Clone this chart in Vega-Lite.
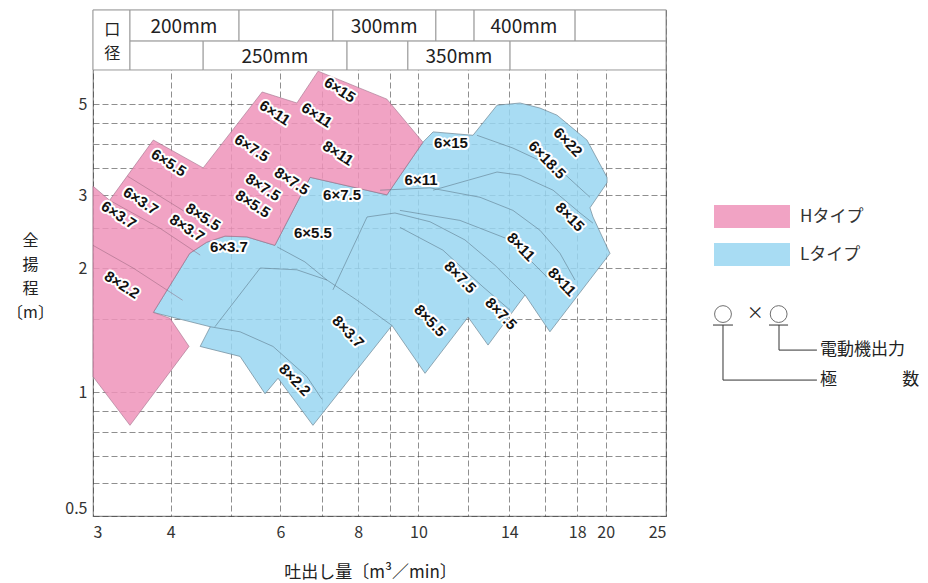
{
"$schema": "https://vega.github.io/schema/vega-lite/v6.json",
"width": 573,
"height": 506,
"autosize": {"type": "none"},
"padding": {"left": 93, "top": 10, "right": 262, "bottom": 67},
"background": "white",
"config": {"view": {"stroke": "#8c8c8c", "strokeWidth": 1.2}, "font": "Noto Sans CJK JP"},
"datasets": {
"pink": [
{"type":"Hタイプ","i":1,"x":3.00,"y":3.16},{"type":"Hタイプ","i":2,"x":3.19,"y":2.92},{"type":"Hタイプ","i":3,"x":3.75,"y":4.09},{"type":"Hタイプ","i":4,"x":4.51,"y":3.50},{"type":"Hタイプ","i":5,"x":5.61,"y":5.35},{"type":"Hタイプ","i":6,"x":6.38,"y":5.03},{"type":"Hタイプ","i":7,"x":6.90,"y":6.01},{"type":"Hタイプ","i":8,"x":8.90,"y":5.14},{"type":"Hタイプ","i":9,"x":10.17,"y":4.04},{"type":"Hタイプ","i":10,"x":8.90,"y":3.01},{"type":"Hタイプ","i":11,"x":6.70,"y":3.32},{"type":"Hタイプ","i":12,"x":5.88,"y":2.27},{"type":"Hタイプ","i":13,"x":5.30,"y":2.38},{"type":"Hタイプ","i":14,"x":4.89,"y":2.39},{"type":"Hタイプ","i":15,"x":4.57,"y":2.31},{"type":"Hタイプ","i":16,"x":4.29,"y":2.17},{"type":"Hタイプ","i":17,"x":3.75,"y":1.56},{"type":"Hタイプ","i":18,"x":3.99,"y":1.51},{"type":"Hタイプ","i":19,"x":4.28,"y":1.29},{"type":"Hタイプ","i":20,"x":3.44,"y":0.83},{"type":"Hタイプ","i":21,"x":3.00,"y":1.09}
],
"blue": [
{"type":"Lタイプ","i":1,"x":3.75,"y":1.56},{"type":"Lタイプ","i":2,"x":4.29,"y":2.17},{"type":"Lタイプ","i":3,"x":4.57,"y":2.31},{"type":"Lタイプ","i":4,"x":4.89,"y":2.39},{"type":"Lタイプ","i":5,"x":5.30,"y":2.38},{"type":"Lタイプ","i":6,"x":5.88,"y":2.27},{"type":"Lタイプ","i":7,"x":6.70,"y":3.32},{"type":"Lタイプ","i":8,"x":8.90,"y":3.01},{"type":"Lタイプ","i":9,"x":10.17,"y":4.04},{"type":"Lタイプ","i":10,"x":10.56,"y":4.28},{"type":"Lタイプ","i":11,"x":12.24,"y":4.20},{"type":"Lタイプ","i":12,"x":13.38,"y":4.97},{"type":"Lタイプ","i":13,"x":14.57,"y":5.03},{"type":"Lタイプ","i":14,"x":15.68,"y":4.89},{"type":"Lタイプ","i":15,"x":16.70,"y":4.70},{"type":"Lタイプ","i":16,"x":18.66,"y":4.09},{"type":"Lタイプ","i":17,"x":20.10,"y":3.32},{"type":"Lタイプ","i":18,"x":20.10,"y":3.22},{"type":"Lタイプ","i":19,"x":18.87,"y":2.80},{"type":"Lタイプ","i":20,"x":19.08,"y":2.66},{"type":"Lタイプ","i":21,"x":20.32,"y":2.17},{"type":"Lタイプ","i":22,"x":16.27,"y":1.40},{"type":"Lタイプ","i":23,"x":14.84,"y":1.72},{"type":"Lタイプ","i":24,"x":12.94,"y":1.30},{"type":"Lタイプ","i":25,"x":12.02,"y":1.52},{"type":"Lタイプ","i":26,"x":10.25,"y":1.11},{"type":"Lタイプ","i":27,"x":9.07,"y":1.45},{"type":"Lタイプ","i":28,"x":6.77,"y":0.83},{"type":"Lタイプ","i":29,"x":5.95,"y":1.08},{"type":"Lタイプ","i":30,"x":5.67,"y":0.99},{"type":"Lタイプ","i":31,"x":5.17,"y":1.22},{"type":"Lタイプ","i":32,"x":4.46,"y":1.29},{"type":"Lタイプ","i":33,"x":4.63,"y":1.44}
],
"linesL": [
{"id":"L1","i":1,"x":4.63,"y":1.44},{"id":"L1","i":2,"x":5.17,"y":1.40},{"id":"L1","i":3,"x":5.84,"y":1.29},{"id":"L1","i":4,"x":6.62,"y":1.09},{"id":"L1","i":5,"x":7.00,"y":0.96},
{"id":"L2","i":1,"x":4.71,"y":1.44},{"id":"L2","i":2,"x":5.57,"y":2.00},{"id":"L2","i":3,"x":6.38,"y":1.98},{"id":"L2","i":4,"x":7.13,"y":1.87},{"id":"L2","i":5,"x":7.97,"y":1.67},{"id":"L2","i":6,"x":9.07,"y":1.45},
{"id":"L3","i":1,"x":5.93,"y":2.25},{"id":"L3","i":2,"x":6.57,"y":2.07},{"id":"L3","i":3,"x":7.13,"y":1.87},
{"id":"L4","i":1,"x":7.29,"y":1.77},{"id":"L4","i":2,"x":8.27,"y":2.66},{"id":"L4","i":3,"x":9.17,"y":2.72},{"id":"L4","i":4,"x":10.44,"y":2.59},{"id":"L4","i":5,"x":11.88,"y":2.34},{"id":"L4","i":6,"x":13.28,"y":2.03},{"id":"L4","i":7,"x":14.84,"y":1.72},
{"id":"L5","i":1,"x":8.68,"y":3.09},{"id":"L5","i":2,"x":10.44,"y":3.13},{"id":"L5","i":3,"x":12.56,"y":2.97},{"id":"L5","i":4,"x":14.19,"y":2.76},{"id":"L5","i":5,"x":15.68,"y":2.47},{"id":"L5","i":6,"x":16.89,"y":2.17},{"id":"L5","i":7,"x":17.85,"y":1.87},
{"id":"L6","i":1,"x":10.56,"y":3.09},{"id":"L6","i":2,"x":13.38,"y":3.42},{"id":"L6","i":3,"x":14.57,"y":3.36},{"id":"L6","i":4,"x":16.46,"y":3.09},{"id":"L6","i":5,"x":18.19,"y":2.72},{"id":"L6","i":6,"x":19.08,"y":2.57},
{"id":"L7","i":1,"x":12.42,"y":4.20},{"id":"L7","i":2,"x":14.19,"y":3.91},{"id":"L7","i":3,"x":16.89,"y":3.46},{"id":"L7","i":4,"x":18.87,"y":2.97},
{"id":"L8","i":1,"x":9.34,"y":2.76},{"id":"L8","i":2,"x":11.66,"y":2.61},{"id":"L8","i":3,"x":14.04,"y":2.34},{"id":"L8","i":4,"x":16.10,"y":1.90},
{"id":"L9","i":1,"x":9.34,"y":2.51},{"id":"L9","i":2,"x":10.95,"y":2.21},{"id":"L9","i":3,"x":12.70,"y":1.80},{"id":"L9","i":4,"x":14.04,"y":1.58}
],
"linesH": [
{"id":"P1","i":1,"x":3.00,"y":2.27},{"id":"P1","i":2,"x":3.48,"y":2.00},{"id":"P1","i":3,"x":4.18,"y":1.67},
{"id":"P3","i":1,"x":3.19,"y":2.92},{"id":"P3","i":2,"x":3.84,"y":2.50},{"id":"P3","i":3,"x":4.46,"y":2.15},
{"id":"P4","i":1,"x":3.41,"y":3.34},{"id":"P4","i":2,"x":4.71,"y":2.47}
],
"labH": [
{"t":"6×15","x":7.48,"y":5.41},{"t":"6×11","x":5.88,"y":4.76},{"t":"6×11","x":6.87,"y":4.70},{"t":"6×7.5","x":5.40,"y":3.91},{"t":"8×11","x":7.43,"y":3.80},{"t":"6×5.5","x":3.97,"y":3.60},{"t":"8×7.5","x":6.26,"y":3.25},{"t":"8×7.5","x":5.63,"y":3.14},{"t":"8×5.5","x":5.42,"y":2.86},{"t":"6×3.7","x":3.58,"y":2.91},{"t":"6×3.7","x":3.30,"y":2.69},{"t":"8×5.5","x":4.51,"y":2.66},{"t":"8×3.7","x":4.25,"y":2.50},{"t":"8×2.2","x":3.34,"y":1.82}
],
"labLflat": [
{"t":"6×3.7","x":4.96,"y":2.25},{"t":"6×5.5","x":6.77,"y":2.43},{"t":"6×7.5","x":7.54,"y":3.01},{"t":"6×11","x":10.10,"y":3.27},{"t":"6×15","x":11.28,"y":4.02}
],
"labLslant": [
{"t":"6×22","x":17.39,"y":4.04},{"t":"6×18.5","x":16.10,"y":3.66},{"t":"8×15","x":17.52,"y":2.66},{"t":"8×11","x":14.62,"y":2.25},{"t":"8×11","x":17.01,"y":1.85},{"t":"8×7.5","x":11.67,"y":1.90},{"t":"8×7.5","x":13.58,"y":1.55},{"t":"8×5.5","x":10.44,"y":1.49},{"t":"8×3.7","x":7.71,"y":1.40},{"t":"8×2.2","x":6.33,"y":1.07}
],
"hdr": [
{"x":3,"x2":3.44,"y":6.05,"y2":8.46},
{"x":3.44,"x2":5.15,"y":7.11,"y2":8.46},{"x":5.15,"x2":7.29,"y":7.11,"y2":8.46},{"x":7.29,"x2":10.67,"y":7.11,"y2":8.46},{"x":10.67,"x2":12.29,"y":7.11,"y2":8.46},{"x":12.29,"x2":17.86,"y":7.11,"y2":8.46},{"x":17.86,"x2":25,"y":7.11,"y2":8.46},
{"x":3.44,"x2":4.51,"y":6.05,"y2":7.11},{"x":4.51,"x2":7.68,"y":6.05,"y2":7.11},{"x":7.68,"x2":9.62,"y":6.05,"y2":7.11},{"x":9.62,"x2":14.04,"y":6.05,"y2":7.11},{"x":14.04,"x2":25,"y":6.05,"y2":7.11}
],
"hdrCorner": [
{"t":"口","x":3.22,"y":7.58},{"t":"径","x":3.22,"y":6.63}
],
"hdrText": [
{"t":"200mm","x":4.20,"y":7.69},{"t":"300mm","x":8.81,"y":7.69},{"t":"400mm","x":14.78,"y":7.69},{"t":"250mm","x":5.88,"y":6.50},{"t":"350mm","x":11.62,"y":6.50}
],
"noteRules": [
{"x":29.75,"x2":32.03,"y":1.454,"y2":1.454},{"x":36.6,"x2":39.27,"y":1.454,"y2":1.454},{"x":30.87,"x2":30.87,"y":1.454,"y2":1.069},{"x":30.87,"x2":43.7,"y":1.069,"y2":1.069},{"x":37.98,"x2":37.98,"y":1.454,"y2":1.264},{"x":37.98,"x2":43.7,"y":1.264,"y2":1.264}
],
"noteCircles": [{"x":30.87,"y":1.546},{"x":37.93,"y":1.546}],
"noteText": [{"t":"×","x":33.7,"y":1.546},{"t":"電動機出力","x":44.2,"y":1.264},{"t":"極","x":44.2,"y":1.069},{"t":"数","x":59.9,"y":1.069}]
},
"encoding": {
"x": {"field": "x", "type": "quantitative", "scale": {"type": "log", "domain": [3, 25], "nice": false},
 "axis": {"title": "吐出し量〔m³／min〕", "values": [3,4,5,6,7,8,9,10,12,14,16,18,20,25],
  "labelExpr": "indexof([3,4,6,8,10,14,18,20,25], datum.value) >= 0 ? format(datum.value, '~g') : ''",
  "labelFlush": true, "labelOverlap": false, "grid": true, "gridColor": "#333", "gridDash": [6,3], "gridOpacity": 0.55,
  "ticks": false, "domain": false, "labelFontSize": 16, "labelColor": "#333", "labelPadding": 8,
  "titleFontSize": 17, "titleFontWeight": "normal", "titleColor": "#222", "titleX": 277, "titleY": 56, "titleBaseline": "middle"}},
"y": {"field": "y", "type": "quantitative", "scale": {"type": "log", "domain": [0.5, 8.46], "nice": false},
 "axis": {"title": ["全","揚","程","〔m〕"], "values": [0.5,0.6,0.7,0.8,0.9,1,1.5,2,2.5,3,3.5,4,4.5,5],
  "labelExpr": "indexof([0.5,1,2,3,5], datum.value) >= 0 ? format(datum.value, '~g') : ''",
  "labelFlush": true, "labelOverlap": false, "grid": true, "gridColor": "#333", "gridDash": [6,3], "gridOpacity": 0.55,
  "ticks": false, "domain": false, "labelFontSize": 16, "labelColor": "#333", "labelPadding": 6,
  "titleAngle": 0, "titleX": -63, "titleY": 222, "titleAlign": "center", "titleBaseline": "top", "titleLineHeight": 24,
  "titleFontSize": 16, "titleFontWeight": "normal", "titleColor": "#222"}}
},
"layer": [
{"data": {"name": "blue"}, "mark": {"type": "line", "interpolate": "linear-closed", "stroke": "#6f8796", "strokeWidth": 1, "strokeOpacity": 0.7, "fillOpacity": 0.85},
 "encoding": {"order": {"field": "i", "type": "quantitative"},
  "fill": {"field": "type", "type": "nominal", "scale": {"domain": ["Hタイプ","Lタイプ"], "range": ["#ef93ba","#99d6f1"]},
   "legend": {"orient": "none", "legendX": 647.5, "legendY": 195, "title": null, "padding": 0, "symbolType": "M-3.304,-1H3.304V1H-3.304Z", "symbolSize": 529, "symbolStrokeWidth": 0, "symbolOpacity": 0.85, "labelFontSize": 17, "labelOffset": 36.5, "rowPadding": 15, "labelColor": "#333", "labelFont": "Noto Sans CJK JP"}}}},
{"data": {"name": "pink"}, "mark": {"type": "line", "interpolate": "linear-closed", "stroke": "#a0708a", "strokeWidth": 1, "strokeOpacity": 0.6, "fillOpacity": 0.85},
 "encoding": {"order": {"field": "i", "type": "quantitative"},
  "fill": {"field": "type", "type": "nominal"}}},
{"data": {"name": "linesL"}, "mark": {"type": "line", "stroke": "#4f6878", "strokeWidth": 0.9, "strokeOpacity": 0.55},
 "encoding": {"detail": {"field": "id", "type": "nominal"}, "order": {"field": "i", "type": "quantitative"}}},
{"data": {"name": "linesH"}, "mark": {"type": "line", "stroke": "#8a5a72", "strokeWidth": 0.9, "strokeOpacity": 0.5},
 "encoding": {"detail": {"field": "id", "type": "nominal"}, "order": {"field": "i", "type": "quantitative"}}},
{"data": {"name": "labH"}, "mark": {"type": "text", "font": "Liberation Sans", "fontWeight": "bold", "fontSize": 15, "angle": 33, "color": "white", "stroke": "white", "strokeWidth": 4, "strokeJoin": "round"}, "encoding": {"text": {"field": "t"}}},
{"data": {"name": "labH"}, "mark": {"type": "text", "font": "Liberation Sans", "fontWeight": "bold", "fontSize": 15, "angle": 33, "color": "#111"}, "encoding": {"text": {"field": "t"}}},
{"data": {"name": "labLflat"}, "mark": {"type": "text", "font": "Liberation Sans", "fontWeight": "bold", "fontSize": 15, "angle": 0, "color": "white", "stroke": "white", "strokeWidth": 4, "strokeJoin": "round"}, "encoding": {"text": {"field": "t"}}},
{"data": {"name": "labLflat"}, "mark": {"type": "text", "font": "Liberation Sans", "fontWeight": "bold", "fontSize": 15, "angle": 0, "color": "#111"}, "encoding": {"text": {"field": "t"}}},
{"data": {"name": "labLslant"}, "mark": {"type": "text", "font": "Liberation Sans", "fontWeight": "bold", "fontSize": 15, "angle": 46, "color": "white", "stroke": "white", "strokeWidth": 4, "strokeJoin": "round"}, "encoding": {"text": {"field": "t"}}},
{"data": {"name": "labLslant"}, "mark": {"type": "text", "font": "Liberation Sans", "fontWeight": "bold", "fontSize": 15, "angle": 46, "color": "#111"}, "encoding": {"text": {"field": "t"}}},
{"data": {"name": "hdr"}, "mark": {"type": "rect", "fill": "white", "stroke": "#9a9a9a", "strokeWidth": 1}, "encoding": {"x2": {"field": "x2"}, "y2": {"field": "y2"}}},
{"data": {"name": "hdrCorner"}, "mark": {"type": "text", "font": "Noto Sans CJK JP", "fontSize": 16, "color": "#222", "baseline": "middle"}, "encoding": {"text": {"field": "t"}}},
{"data": {"name": "hdrText"}, "mark": {"type": "text", "font": "Noto Sans CJK JP", "fontSize": 19, "color": "#222", "baseline": "middle"}, "encoding": {"text": {"field": "t"}}},
{"data": {"name": "noteRules"}, "mark": {"type": "rule", "color": "#333", "strokeWidth": 1}, "encoding": {"x2": {"field": "x2"}, "y2": {"field": "y2"}}},
{"data": {"name": "noteCircles"}, "mark": {"type": "point", "shape": "circle", "filled": false, "size": 283, "color": "#333", "strokeWidth": 1}, "encoding": {}},
{"data": {"name": "noteText"}, "mark": {"type": "text", "font": "Noto Sans CJK JP", "fontSize": 17, "color": "#222", "align": "left", "baseline": "middle"}, "encoding": {"text": {"field": "t"}}}
]
}
